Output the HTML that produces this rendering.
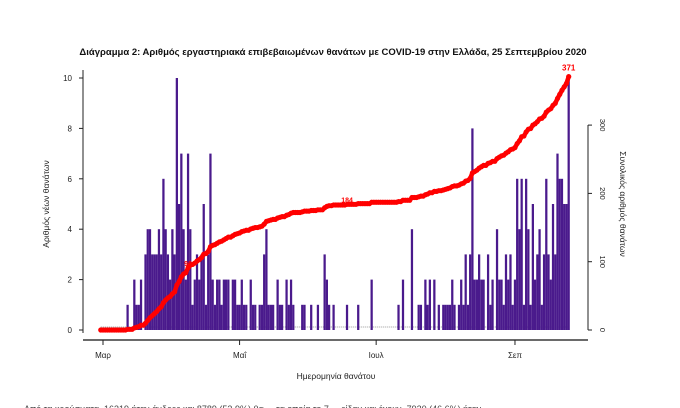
<!DOCTYPE html>
<html><head><meta charset="utf-8"><style>
html,body{margin:0;padding:0;background:#fff;width:680px;height:408px;overflow:hidden}
svg{display:block;font-family:"Liberation Sans","DejaVu Sans",sans-serif}
</style></head><body>
<svg id="chart" width="680" height="408">
<text x="333" y="55" text-anchor="middle" font-size="9.5" font-weight="bold" fill="#111">Διάγραμμα 2: Αριθμός εργαστηριακά επιβεβαιωμένων θανάτων με COVID-19 στην Ελλάδα, 25 Σεπτεμβρίου 2020</text>
<text transform="translate(49,204) rotate(-90)" text-anchor="middle" font-size="8.5" fill="#222">Αριθμός νέων θανάτων</text>
<text transform="translate(620,204) rotate(90)" text-anchor="middle" font-size="8.5" fill="#222">Συνολικός αριθμός θανάτων</text>
<text x="336" y="379" text-anchor="middle" font-size="8.5" fill="#222">Ημερομηνία θανάτου</text>
<text x="24" y="412" font-size="9" fill="#444">Από τα κρούσματα, 16319 ήταν άνδρες και 8789 (53.9%) θα ... τα οποία το 7 ... είδαν και έχουν, 7920 (46.6%) ήταν</text>
<g id="plot"></g>
</svg>
<script>
const months = ["Μαρ","Μαΐ","Ιουλ","Σεπ"];
const monthDays = [0, 61, 122, 184];
const leftTicks = [0, 2, 4, 6, 8, 10];
const rightTicks = [0, 100, 200, 300];
const startDay = 11; // Mar 12
const daily = [
1,0,0,2,1,1,2,0,3,4,4,3,3,3,4,3,6,4,3,2,
4,3,10,5,7,4,2,7,4,1,2,3,2,3,5,1,3,7,2,1,2,2,1,2,2,2,0,2,2,1,
1,2,1,1,0,2,1,1,0,1,1,3,4,1,1,1,0,2,1,1,0,2,1,2,1,0,0,0,1,1,0,
0,1,0,0,1,0,0,3,2,1,0,1,0,0,0,0,0,1,0,0,0,0,1,0,0,0,0,0,2,0,
0,0,0,0,0,0,0,0,0,0,1,0,2,0,0,0,4,0,0,1,1,0,2,1,2,0,2,0,1,0,1,
1,1,1,2,1,0,1,2,1,3,1,3,8,2,2,3,2,2,0,3,1,2,0,4,2,2,1,3,2,3,1,
2,6,4,6,1,6,4,1,5,2,3,4,1,3,6,3,2,5,3,7,6,6,5,5,10
];
const labelCum = [90, 184];

const NS="http://www.w3.org/2000/svg";
const g=document.getElementById('plot');
function mk(t,a){const e=document.createElementNS(NS,t);for(const k in a)e.setAttribute(k,a[k]);g.appendChild(e);return e;}
const xOf=d=>103+d*2.239;
const yL=v=>330-v*25.2;
const yR=v=>330-v*0.683;

// axes
let e=mk('line',{x1:83,y1:70,x2:83,y2:333,stroke:'#222','stroke-width':1});

leftTicks.forEach(v=>{
 let t=mk('line',{x1:79,y1:yL(v),x2:83,y2:yL(v),stroke:'#222'});
 
 let l=mk('text',{x:72,y:yL(v)+3,'text-anchor':'end','font-size':8,fill:'#222'});l.textContent=v;
 
});
e=mk('line',{x1:83,y1:340,x2:588,y2:340,stroke:'#111','stroke-width':1.2});

months.forEach((m,i)=>{
 const x=xOf(monthDays[i]);
 let t=mk('line',{x1:x,y1:340,x2:x,y2:345,stroke:'#222'});
 
 let l=mk('text',{x:x,y:358,'text-anchor':'middle','font-size':8,fill:'#222'});l.textContent=m;
 
});
e=mk('line',{x1:588,y1:125,x2:588,y2:330,stroke:'#222'});

rightTicks.forEach(v=>{
 let t=mk('line',{x1:588,y1:yR(v),x2:592,y2:yR(v),stroke:'#222'});
 
 let l=mk('text',{transform:`translate(600,${yR(v)}) rotate(90)`,'text-anchor':'middle','font-size':7.5,fill:'#222'});l.textContent=v;
 
});
// baseline dotted
e=mk('line',{x1:xOf(-1),y1:327,x2:xOf(startDay+daily.length-1),y2:327,stroke:'#999','stroke-width':1,'stroke-dasharray':'1,1'});

// bars
daily.forEach((v,i)=>{
 if(!v)return;
 const d=startDay+i,x=xOf(d)-1.15;
 let b=mk('rect',{x:x,y:yL(v),width:2.25,height:yL(0)-yL(v),fill:'#4a1a8c'});
 
});
// cumulative
let cum=[0,0,0,0,0,0,0,0,0,0,0,0],pts=[];
for(let d=-1;d<startDay;d++)pts.push([xOf(d),yR(0)]);
let s=0;daily.forEach((v,i)=>{s+=v;pts.push([xOf(startDay+i),yR(s)]);});
let p=mk('polyline',{points:pts.map(q=>q.join(',')).join(' '),fill:'none',stroke:'#ff0000','stroke-width':4.5,'stroke-linejoin':'round','stroke-linecap':'round'});

pts.forEach(q=>{let c=mk('circle',{cx:q[0],cy:q[1],r:2.6,fill:'#ff0000'});
 });
// labels
s=0;daily.forEach((v,i)=>{s+=v;
 if(labelCum.includes(s)&&!(daily[i+1]===0&&false)){}
});
function labelAt(val){let c=0;for(let i=0;i<daily.length;i++){c+=daily[i];if(c>=val)return [xOf(startDay+i),yR(c)];}return null;}
labelCum.forEach(val=>{const q=labelAt(val);if(!q)return;
 let l=mk('text',{x:q[0],y:q[1]-2,'text-anchor':'middle','font-size':7,'font-weight':'bold',fill:'#ff0000'});l.textContent=val;
 });
const last=pts[pts.length-1];
let l=mk('text',{x:last[0],y:last[1]-6,'text-anchor':'middle','font-size':8,'font-weight':'bold',fill:'#ff0000'});l.textContent=s;

</script>
</body></html>
